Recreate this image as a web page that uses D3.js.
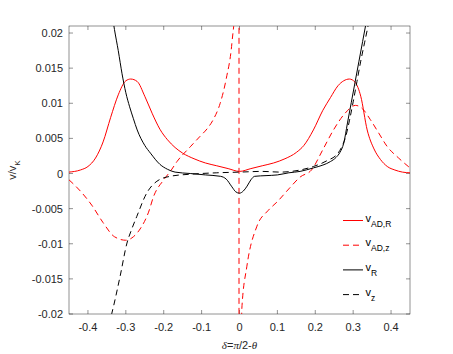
<!DOCTYPE html>
<html>
<head>
<meta charset="utf-8">
<script src="https://cdn.jsdelivr.net/npm/d3@7"></script>
<style>
	body { margin: 0; background: #fff; }
	svg { display: block; font-family: "Liberation Sans", Arial, sans-serif; }
</style>
</head>
<body>
<div id="chart"></div>
<script>
// v_AD,R (red solid)
const adRX = [-0.45, -0.42, -0.40, -0.38, -0.36, -0.34, -0.32, -0.30, -0.287, -0.27, -0.25, -0.23, -0.21, -0.19, -0.17, -0.15, -0.12, -0.09, -0.06, -0.03, 0,
	0.03, 0.06, 0.09, 0.12, 0.15, 0.17, 0.195, 0.22, 0.24, 0.26, 0.275, 0.29, 0.305, 0.32, 0.337, 0.355, 0.372, 0.39, 0.41, 0.43, 0.45];
const adRY = [0.0002, 0.0005, 0.0010, 0.0022, 0.0045, 0.0080, 0.0112, 0.0132, 0.01345, 0.0131, 0.0110, 0.0085, 0.0063, 0.0048, 0.0037, 0.0029, 0.0021, 0.0015, 0.0011, 0.0007, 0.0003,
	0.0007, 0.0011, 0.0015, 0.0021, 0.0030, 0.0040, 0.0062, 0.0090, 0.0108, 0.0125, 0.0132, 0.01345, 0.0130, 0.0110, 0.0062, 0.0035, 0.0020, 0.0010, 0.0005, 0.0002, 0.0001];

// v_AD,z (red dashed), jumps from +inf to -inf just left of 0
const adZX = [-0.45, -0.42, -0.39, -0.36, -0.33, -0.30, -0.28, -0.26, -0.24, -0.227, -0.20, -0.18, -0.165, -0.13, -0.104, -0.085, -0.069, -0.051, -0.035, -0.02, -0.01, -0.0014,
	-0.0012, 0.006, 0.0195, 0.046, 0.075, 0.10, 0.13, 0.16, 0.19, 0.22, 0.248, 0.279, 0.306, 0.325, 0.345, 0.367, 0.389, 0.42, 0.45];
const adZY = [-0.0009, -0.0025, -0.0045, -0.0070, -0.0090, -0.0095, -0.0090, -0.0077, -0.0055, -0.0033, -0.0009, 0.0005, 0.0017, 0.0038, 0.0053, 0.0064, 0.0077, 0.0100, 0.0135, 0.0186, 0.026, 0.2,
	-0.2, -0.0194, -0.0132, -0.0075, -0.0053, -0.0040, -0.0022, -0.0005, 0.0005, 0.0034, 0.0062, 0.0086, 0.0097, 0.0092, 0.0077, 0.0058, 0.0039, 0.0022, 0.0008];

// v_R (black solid)
const rX = [-0.345, -0.33, -0.32, -0.31, -0.30, -0.29, -0.28, -0.27, -0.25, -0.235, -0.21, -0.19, -0.17, -0.13, -0.09, -0.05, -0.035, -0.02, -0.01, 0,
	0.01, 0.02, 0.03, 0.04, 0.07, 0.10, 0.13, 0.16, 0.195, 0.22, 0.24, 0.255, 0.265, 0.275, 0.285, 0.295, 0.305, 0.315, 0.325, 0.335, 0.345];
const rY = [0.026, 0.0205, 0.0175, 0.0142, 0.0115, 0.0095, 0.0078, 0.0062, 0.0040, 0.0029, 0.0013, 0.0006, 0.0002, 0.0, -0.0002, -0.0004, -0.0008, -0.0019, -0.0026, -0.0028,
	-0.0025, -0.0018, -0.0009, -0.0004, -0.0003, -0.0002, 0.0001, 0.0003, 0.0008, 0.0012, 0.0017, 0.0023, 0.0030, 0.0043, 0.0072, 0.0101, 0.0130, 0.0159, 0.0188, 0.0217, 0.0246];

// v_z (black dashed)
const zX = [-0.345, -0.337, -0.315, -0.297, -0.285, -0.271, -0.245, -0.218, -0.183, -0.13, -0.06, 0, 0.06, 0.1075, 0.16, 0.195, 0.23, 0.26, 0.27, 0.28, 0.29, 0.30, 0.31, 0.32, 0.33, 0.34, 0.35];
const zY = [-0.0215, -0.0199, -0.0146, -0.0099, -0.0080, -0.0061, -0.0028, -0.0011, -0.0004, -0.0001, 0.0001, 0.0002, 0.0003, 0.0002, 0.0005, 0.0010, 0.0018, 0.0029, 0.0038, 0.0052, 0.0075, 0.0102, 0.0131, 0.0160, 0.0186, 0.0212, 0.0240];

const xTicks = [-0.4, -0.3, -0.2, -0.1, 0, 0.1, 0.2, 0.3, 0.4];
const yTicks = [-0.02, -0.015, -0.01, -0.005, 0, 0.005, 0.01, 0.015, 0.02];

const series = [
	{ name: 'AD,R', xs: adRX, ys: adRY, color: '#ff0000', dash: null },
	{ name: 'AD,z', xs: adZX, ys: adZY, color: '#ff0000', dash: '6,4' },
	{ name: 'R', xs: rX, ys: rY, color: '#000000', dash: null },
	{ name: 'z', xs: zX, ys: zY, color: '#000000', dash: '6,4' }
];

const width = 453, height = 354;
const margin = { top: 26, right: 43, bottom: 40, left: 69 };
const iw = width - margin.left - margin.right;
const ih = height - margin.top - margin.bottom;

const svg = d3.select('#chart')
	.append('svg')
	.attr('width', width)
	.attr('height', height);

const x = d3.scaleLinear().domain([-0.45, 0.45]).range([0, iw]);
const y = d3.scaleLinear().domain([-0.02, 0.021]).range([ih, 0]);

svg.append('defs').append('clipPath').attr('id', 'clip')
	.append('rect').attr('width', iw).attr('height', ih);

const g = svg.append('g')
	.attr('transform', `translate(${margin.left}, ${margin.top})`);

const axisColor = '#262626';
const tickLen = 4;

// box
g.append('rect')
	.attr('x', 0).attr('y', 0)
	.attr('width', iw).attr('height', ih)
	.attr('fill', 'none')
	.attr('stroke', axisColor)
	.attr('stroke-width', 0.5);

// inward ticks on all four sides
const ticks = g.append('g').attr('stroke', axisColor).attr('stroke-width', 0.5);
xTicks.forEach((t) => {
	ticks.append('line').attr('x1', x(t)).attr('x2', x(t)).attr('y1', ih).attr('y2', ih - tickLen);
	ticks.append('line').attr('x1', x(t)).attr('x2', x(t)).attr('y1', 0).attr('y2', tickLen);
});
yTicks.forEach((t) => {
	ticks.append('line').attr('x1', 0).attr('x2', tickLen).attr('y1', y(t)).attr('y2', y(t));
	ticks.append('line').attr('x1', iw).attr('x2', iw - tickLen).attr('y1', y(t)).attr('y2', y(t));
});

g.append('g').selectAll('text')
	.data(xTicks)
	.enter()
	.append('text')
	.attr('x', (d) => x(d))
	.attr('y', ih + 17)
	.attr('text-anchor', 'middle')
	.attr('font-size', 11)
	.attr('fill', axisColor)
	.text((d) => d3.format('~g')(d).replace('−', '-'));

g.append('g').selectAll('text')
	.data(yTicks)
	.enter()
	.append('text')
	.attr('x', -6)
	.attr('y', (d) => y(d) + 4)
	.attr('text-anchor', 'end')
	.attr('font-size', 11)
	.attr('fill', axisColor)
	.text((d) => d3.format('~g')(d).replace('−', '-'));

// curves
const line = d3.line()
	.x((d) => x(d[0]))
	.y((d) => y(d[1]))
	.curve(d3.curveMonotoneX);

const plot = g.append('g').attr('clip-path', 'url(#clip)');
series.forEach((s) => {
	plot.append('path')
		.datum(s.xs.map((v, i) => [v, s.ys[i]]))
		.attr('d', line)
		.attr('fill', 'none')
		.attr('stroke', s.color)
		.attr('stroke-width', 1)
		.attr('stroke-dasharray', s.dash);
});

// axis labels
const xl = svg.append('text')
	.attr('x', margin.left + x(0))
	.attr('y', 349)
	.attr('text-anchor', 'middle')
	.attr('font-size', 11)
	.attr('fill', axisColor);
xl.append('tspan').attr('font-family', '"Liberation Serif", serif').attr('font-style', 'italic').text('δ');
xl.append('tspan').text('=');
xl.append('tspan').attr('font-family', '"Liberation Serif", serif').attr('font-style', 'italic').text('π');
xl.append('tspan').text('/2-');
xl.append('tspan').attr('font-family', '"Liberation Serif", serif').attr('font-style', 'italic').text('θ');

const yl = svg.append('text')
	.attr('transform', `translate(16, ${margin.top + ih / 2}) rotate(-90)`)
	.attr('text-anchor', 'middle')
	.attr('font-size', 11)
	.attr('fill', axisColor);
yl.append('tspan').text('v/v');
yl.append('tspan').attr('font-size', 8).attr('dy', 4).text('K');

// legend
const legend = svg.append('g');
series.forEach((s, i) => {
	let ly = 220.5 + i * 24.7;
	legend.append('line')
		.attr('x1', 343).attr('x2', 363)
		.attr('y1', ly).attr('y2', ly)
		.attr('stroke', s.color)
		.attr('stroke-width', 1)
		.attr('stroke-dasharray', s.dash);
	let t = legend.append('text')
		.attr('x', 365.5)
		.attr('y', ly + 1)
		.attr('font-size', 11)
		.attr('fill', '#000');
	t.append('tspan').text('v');
	t.append('tspan').attr('font-size', 8.5).attr('dy', 5).text(s.name);
});
</script>
</body>
</html>
